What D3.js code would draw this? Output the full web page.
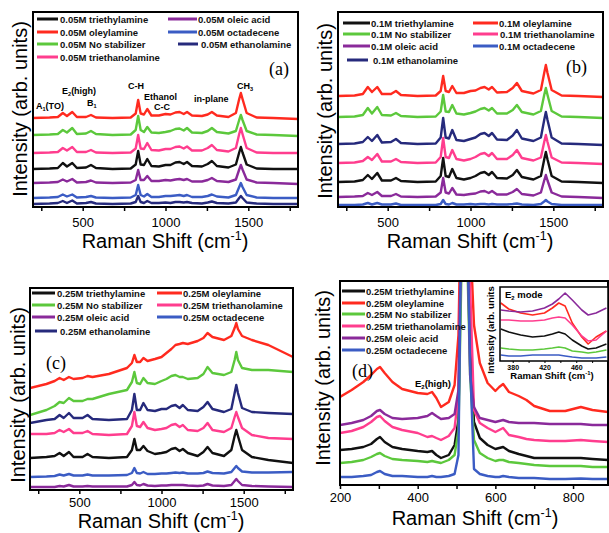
<!DOCTYPE html>
<html>
<head>
<meta charset="utf-8">
<script src="https://cdn.jsdelivr.net/npm/d3@7"></script>
<style>
  body { margin: 0; background: #fff; }
  svg { display: block; font-family: "Liberation Sans", Arial, sans-serif; }
</style>
</head>
<body>
<script>
// ---- data (intensities in arb. units) ----
const stabilizers = ['triethylamine', 'oleylamine', 'No stabilizer', 'triethanolamine', 'oleic acid', 'octadecene', 'ethanolamine'];
const concentrations = ['0.05M', '0.1M', '0.25M', '0.25M'];

// Raman shift grid shared by panels a, b, c
const shiftAC = [200,300,350,380,405,437,465,520,550,580,680,790,820,835,850,870,890,915,960,1000,1030,1060,1085,1110,1130,1160,1220,1255,1280,1310,1380,1425,1445,1455,1465,1490,1550,1650,1800];

// (a) 0.05M
const a_triethylamine   = [38,38.5,39,44,40.5,44,39,39.5,42,39,38,38.5,42.5,56,42.5,42,48,41,40.5,42,42,44.5,45,43,45,41,40.5,43,46,41,39.5,42.5,54.5,60,54.5,42.5,38.5,38,38];
const a_oleylamine      = [89,89.5,90,94,91,95,90,90,92,89.5,89,89.5,93.5,107,93.5,92.5,98,91.5,91.5,93,92.5,94.5,95,93,95,91.5,91,92.5,95,91.5,90,94,108,114,108,94,89.5,89,88];
const a_nostabilizer    = [72,72.5,73,77,74.5,79,73,73.5,76,73,72,72.5,77,91,77,75,80,74.5,74,75,76,78,78.5,76.5,79,74.5,74,76,79,75,73.5,76,87,92,87,76,72.5,72,71];
const a_triethanolamine = [54,54.5,55,59,56.5,60,55,55,57,54.5,54,54.5,58.5,72,58.5,58,64,57,56.5,58,58,60,60.5,58.5,60.5,56.5,56.5,59,62,57,55.5,59,73,79,73,59,54.5,54,54];
const a_oleicacid       = [24,24.5,25,27.5,25.5,28,24.5,25,26.5,24.5,24,24.5,27,37,27,27,31,26,26,27,26.5,27.5,28,27,28,25.5,25.5,27,29,26,25,27.5,37.5,42,37.5,27.5,24.5,24,23];
const a_octadecene      = [9,9.5,10,12.5,10.5,12.5,9.5,10,11,9.5,9,9.5,12,22,12,10.5,13,10,10,11,11,11.5,12,11,12,10,10,11,12.5,10.5,9.5,12,20,24,20,12,9.5,9,9];
const a_ethanolamine    = [3,3.5,4,6,4,6.5,3.5,4,5,3.5,3,3.5,5,11,5,4,6,4,4,4.5,4,5,5,4.5,5,4,3.5,4.5,5.5,4,3.5,4.5,9,11,9,4.5,3.5,3,3];

// (b) 0.1M
const b_triethylamine   = [25,25.5,27,32,28,34,26.5,26.5,29,26,25,25.5,31,49,31,30,38,29,27.5,29,31,34,35,32,35,29,28.5,32,37,30,27.5,31,47.5,55,47.5,31,25.5,25,24];
const b_oleylamine      = [111,111.5,113,120,115,120,113,113,116,112,111,111.5,116,131,116,115,121,114,114,116,116.5,119,120,117.5,120,114.5,115,119,124,116,113.5,117,134,142,134,117,111.5,111,110];
const b_nostabilizer    = [90,90.5,92,99,93.5,100,92,91.5,94,91,90,90.5,95.5,112,95.5,95,102,93.5,92.5,94,95.5,98,99,96.5,99,93.5,93.5,97,102,95,92.5,96,112,119,112,96,90.5,90,89];
const b_triethanolamine = [44,44.5,46,50,47,53,45.5,45.5,48,45,44,44.5,50,69,50,49,57,48,46.5,48,50,53,54,51,54,48,48,52,57,49,46.5,49.5,65,72,65,49.5,44.5,44,43];
const b_oleicacid       = [10,10.5,11,14,12,15,11,11,13,10.5,10,10.5,14.5,29,14.5,13.5,19,12.5,12,13,13.5,15.5,16,14,16,12.5,12.5,15,18,13,11.5,14.5,26.5,32,26.5,14.5,10.5,10,9];
const b_octadecene      = [2,2,2.5,4,2.5,4,2.5,2.5,3.5,2,2,2,3,7,3,2.5,4,2.5,2.5,3,2.5,3,3,2.5,3,2.5,2.5,3,3.5,2.5,2,3,5.5,7,5.5,3,2,2,2];
const b_ethanolamine    = [63,63.5,65,70,66,72,64.5,65,68,64,63,63.5,69.5,89,69.5,68.5,77,67,66,68,69.5,73,74,71,74,67.5,67,71.5,77,68.5,66,69.5,87,95,87,69.5,63.5,63,62];

// (c) 0.25M
const c_triethylamine   = [32,33,34,37,34,38,33,33,36,33,32,33,40,51,40,40,44,39,36,37,38,41,42,39,41,37,34,38,43,37,34,40,54,60,54,40,33,30,27];
const c_oleylamine      = [102,106,109,112,110,113,111,112,114,113,116,122,127,135,128,128,132,129,131,133,137,141,145,146,147,146,149,152,157,153,150,154,162,167,161,154,150,145,133];
const c_nostabilizer    = [75,80,84,88,87,92,89,89,91,91,96,100,108,118,107,106,112,107,106,109,111,114,115,113,113,111,112,116,123,117,115,118,130,138,130,122,120,120,118];
const c_triethanolamine = [56,56,57,60,58,61,57,57,59,56,55,56,64,78,64,63,68,62,60,61,62,65,66,63,65,60,59,62,67,60,58,62,73,78,73,62,55,52,51];
const c_oleicacid       = [3,3,3,4,3.5,5,3.5,3.5,4,3.5,3.5,3.5,5,8,5,4.5,6,4.5,4,4.5,4.5,5,5,5,5,4.5,4,4.5,6,4.5,4,5,9,11,9,5,4,3.5,3];
const c_octadecene      = [13,13.5,14,15.5,14.5,16,14.5,14.5,15.5,14.5,14.5,15,17,22,17,16.5,18,16,16,16.5,16.5,17,17.5,17,17.5,16.5,16.5,17,18.5,17,16.5,18,22,24,22,18.5,17.5,17.5,18];
const c_ethanolamine    = [67,70,71,75,72,77,72,72,75,71,70,71,80,96,80,80,87,80,79,81,81,84,85,82,85,80,79,83,88,81,78,81,97,105,97,82,78,77,76];

// (d) 0.25M, low-wavenumber region
const shiftD = [200,230,260,280,295,303,315,335,360,400,425,437,448,460,480,495,505,512,520,528,535,545,560,580,600,610,620,635,660,680,700,740,780,820,850,890];
const d_triethylamine   = [35,36,38,41,46,48,43,38,36,34,33,34,30,27,30,40,65,250,330,260,140,63,47,40,36,37,38,34,31,29,27,27,27,27,26,25];
const d_oleylamine      = [88,95,103,110,116,118,112,103,96,92,91,93,87,78,83,100,150,300,330,300,250,160,122,102,94,98,101,93,89,85,79,74,74,78,75,73];
const d_nostabilizer    = [22,23,25,28,31,32,29,26,25,24,23,24,23,22,25,30,55,200,330,220,110,45,32,27,24,25,25,23,22,21,20,19,19,19,18,18];
const d_triethanolamine = [52,54,58,63,68,69,64,58,55,52,48,49,47,45,49,57,90,260,330,300,200,75,62,57,53,55,57,50,48,46,45,44,44,45,44,43];
const d_oleicacid       = [60,62,65,69,74,75,71,67,66,67,69,72,69,66,67,71,95,260,330,260,110,78,67,65,63,64,65,63,62,62,62,61,61,61,60,60];
const d_octadecene      = [8,8,9,10,13,14,11,9,9,8,8,9,8,8,9,11,30,250,330,250,120,16,11,9,8,8,9,8,7,7,7,6,6,6.5,6,6];

// (d) inset, E2 mode
const shiftInset = [365,375,390,405,420,430,438,446,455,467,475,485,498];
const in_triethylamine   = [32,29,26,24,25,27,29,27,21,15,12,13,17];
const in_oleylamine      = [58,52,48,46,48,53,58,55,38,24,17,24,30];
const in_nostabilizer    = [13,12,11,11,12,13,14,13,10,9,8,9,11];
const in_triethanolamine = [41,41,40,40,41,43,44,43,36,25,20,21,30];
const in_oleicacid       = [51,50,49,50,53,57,62,68,61,51,46,48,53];
const in_octadecene      = [6,5,5,6,6,6,6,5,4,3,3,3,4];

// tick labels
const ticksAC = [500, 1000, 1500];
const ticksD = [200, 400, 600, 800];
const ticksInset = [380, 420, 460];

// ---- drawing ----
const palette = ['#111111', '#ff2a1f', '#5cc83c', '#ff3d8e', '#8a2a9a', '#3b5cc4', '#262a7c'];

const svg = d3.select('body').append('svg').attr('width', 609).attr('height', 533);
const defs = svg.append('defs');

// text with alternating normal / shifted parts: [normal, shifted, normal, ...]
function richText(g, x, y, parts, size, shift, attrs) {
  const t = g.append('text').attr('x', x).attr('y', y).attr('font-size', size).attr('fill', '#000');
  Object.entries(attrs || {}).forEach(([k, v]) => t.attr(k, v));
  parts.forEach((p, i) => {
    const ts = t.append('tspan').text(p);
    if (i % 2 === 1) ts.attr('font-size', size * 0.62).attr('dy', shift);
    else if (i > 0) ts.attr('dy', -shift);
  });
  return t;
}

const panels = [
  { id: 'a', left: 33, right: 298, top: 12, bottom: 207, domain: [200, 1800], xs: shiftAC,
    ticks: d3.range(250, 1800, 250), labels: ticksAC, pad: 7,
    series: [a_triethylamine, a_oleylamine, a_nostabilizer, a_triethanolamine, a_oleicacid, a_octadecene, a_ethanolamine],
    legend: [[37,58,60,19],[37,58,60,32],[37,58,60,44],[37,58,60,57],[168,197,198,19],[168,197,198,32],[178,198,201,44]],
    xTitle: [165, 248], yTitle: [27, 109], letter: ['(a)', 269, 75] },
  { id: 'b', left: 338, right: 603, top: 12, bottom: 207, domain: [200, 1800], xs: shiftAC,
    ticks: d3.range(250, 1800, 250), labels: ticksAC, pad: 7,
    series: [b_triethylamine, b_oleylamine, b_nostabilizer, b_triethanolamine, b_oleicacid, b_octadecene, b_ethanolamine],
    legend: [[343,370,371,23],[473,498,499,23],[343,370,371,34],[473,498,500,34],[343,370,371,46],[473,498,499,46],[347,368,373,60]],
    xTitle: [470, 248], yTitle: [332, 111], letter: ['(b)', 566, 73] },
  { id: 'c', left: 30, right: 293, top: 288, bottom: 490, domain: [200, 1800], xs: shiftAC,
    ticks: d3.range(250, 1800, 250), labels: ticksAC, pad: 4,
    series: [c_triethylamine, c_oleylamine, c_nostabilizer, c_triethanolamine, c_oleicacid, c_octadecene, c_ethanolamine],
    legend: [[32,55,57,293],[157,182,183,293],[32,55,57,305],[157,182,183,305],[32,55,57,317],[157,182,183,317],[35,57,60,331]],
    xTitle: [161, 528], yTitle: [25, 395], letter: ['(c)', 46, 369] },
  { id: 'd', left: 340, right: 608, top: 281, bottom: 485, domain: [200, 890], xs: shiftD,
    ticks: d3.range(200, 890, 100), labels: ticksD, pad: 4,
    series: [d_triethylamine, d_oleylamine, d_nostabilizer, d_triethanolamine, d_oleicacid, d_octadecene],
    legend: [[342,365,366,291],[342,365,366,303],[342,365,366,314],[342,365,366,326],[342,365,366,338],[342,365,366,350]],
    xTitle: [475, 525], yTitle: [330, 378], letter: ['(d)', 352, 377] }
];

function drawFrame(g, p, opt) {
  const x = d3.scaleLinear().domain(p.domain).range([p.left, p.right]);
  const y = d3.scaleLinear().domain([0, p.bottom - p.top]).range([p.bottom, p.top]);

  defs.append('clipPath').attr('id', 'clip-' + p.id).append('rect')
    .attr('x', p.left).attr('y', p.top)
    .attr('width', p.right - p.left).attr('height', p.bottom - p.top);

  if (opt.fill) {
    g.append('rect').attr('x', p.left).attr('y', p.top)
      .attr('width', p.right - p.left).attr('height', p.bottom - p.top).attr('fill', '#fff');
  }

  const line = d3.line().x((d, i) => x(p.xs[i])).y(d => y(d));
  g.append('g').attr('clip-path', `url(#clip-${p.id})`)
    .selectAll('path')
    .data(p.series)
    .join('path')
      .attr('d', d => line(d))
      .attr('fill', 'none')
      .attr('stroke', (d, i) => palette[i])
      .attr('stroke-width', opt.lineWidth)
      .attr('stroke-linejoin', 'round');

  const axis = d3.axisBottom(x)
    .tickValues(p.ticks)
    .tickSize(opt.tickSize)
    .tickSizeOuter(0)
    .tickPadding(p.pad)
    .tickFormat(v => p.labels.includes(v) ? v : '');
  const ax = g.append('g').attr('transform', `translate(0,${p.bottom})`).call(axis);
  ax.select('.domain').remove();
  ax.selectAll('line').attr('stroke', '#000').attr('stroke-width', opt.tickWidth);
  ax.selectAll('text')
    .attr('fill', '#000')
    .attr('font-size', opt.tickFont)
    .attr('font-weight', opt.tickWeight)
    .attr('font-family', '"Liberation Sans", Arial, sans-serif');

  g.append('rect').attr('x', p.left).attr('y', p.top)
    .attr('width', p.right - p.left).attr('height', p.bottom - p.top)
    .attr('fill', 'none').attr('stroke', '#000').attr('stroke-width', opt.frameWidth);
}

panels.forEach((p, pi) => {
  const g = svg.append('g').attr('class', 'panel-' + p.id);
  drawFrame(g, p, { lineWidth: 2.4, tickSize: 4, tickWidth: 1.5, tickFont: 13, tickWeight: 'normal', frameWidth: 2 });

  // legend
  const lg = g.append('g');
  p.legend.forEach((l, i) => {
    lg.append('line').attr('x1', l[0]).attr('x2', l[1]).attr('y1', l[3]).attr('y2', l[3])
      .attr('stroke', palette[i]).attr('stroke-width', 3);
    lg.append('text').attr('x', l[2]).attr('y', l[3] + 3.5)
      .attr('font-size', 9.5).attr('font-weight', 'bold').attr('fill', '#111')
      .text(`${concentrations[pi]} ${stabilizers[i]}`);
  });

  // axis titles
  richText(g, p.xTitle[0], p.xTitle[1], ['Raman Shift (cm', '-1', ')'], 20, -8, { 'text-anchor': 'middle' });
  g.append('text')
    .attr('transform', `translate(${p.yTitle[0]},${p.yTitle[1]}) rotate(-90)`)
    .attr('text-anchor', 'middle').attr('font-size', 20).attr('fill', '#000')
    .text('Intensity (arb. units)');

  g.append('text').attr('x', p.letter[1]).attr('y', p.letter[2])
    .attr('font-family', '"Liberation Serif", "Times New Roman", serif')
    .attr('font-size', 18).attr('fill', '#000').text(p.letter[0]);
});

// peak assignments in (a)
const ga = svg.select('.panel-a');
const peakNotes = [
  [['A', '1', '(TO)'], 36, 109],
  [['E', '2', '(high)'], 62, 94],
  [['B', '1'], 87, 106],
  [['C-H'], 128, 89],
  [['Ethanol'], 144, 100],
  [['C-C'], 154, 110],
  [['in-plane'], 194, 102],
  [['CH', '3'], 237, 89]
];
peakNotes.forEach(n => richText(ga, n[1], n[2], n[0], 9, 2, { 'font-weight': 'bold' }));

const gd = svg.select('.panel-d');
richText(gd, 415, 387, ['E', '2', '(high)'], 9.5, 2, { 'font-weight': 'bold' });

// inset of (d)
const inset = { id: 'inset', left: 500, right: 608, top: 287, bottom: 361, domain: [364, 500], xs: shiftInset,
  ticks: d3.range(380, 500, 20), labels: ticksInset, pad: 2,
  series: [in_triethylamine, in_oleylamine, in_nostabilizer, in_triethanolamine, in_oleicacid, in_octadecene] };
const gi = svg.append('g');
drawFrame(gi, inset, { fill: true, lineWidth: 1.6, tickSize: 2, tickWidth: 1, tickFont: 7, tickWeight: 'bold', frameWidth: 1.5 });
richText(gi, 552, 379, ['Raman Shift (cm', '-1', ')'], 9.5, -4, { 'text-anchor': 'middle', 'font-weight': 'bold' });
gi.append('text')
  .attr('transform', 'translate(494,330) rotate(-90)')
  .attr('text-anchor', 'middle').attr('font-size', 9.5).attr('font-weight', 'bold').attr('fill', '#000')
  .text('Intensity (arb. units');
richText(gi, 505, 298, ['E', '2', ' mode'], 9.5, 2, { 'font-weight': 'bold' });
</script>
</body>
</html>
